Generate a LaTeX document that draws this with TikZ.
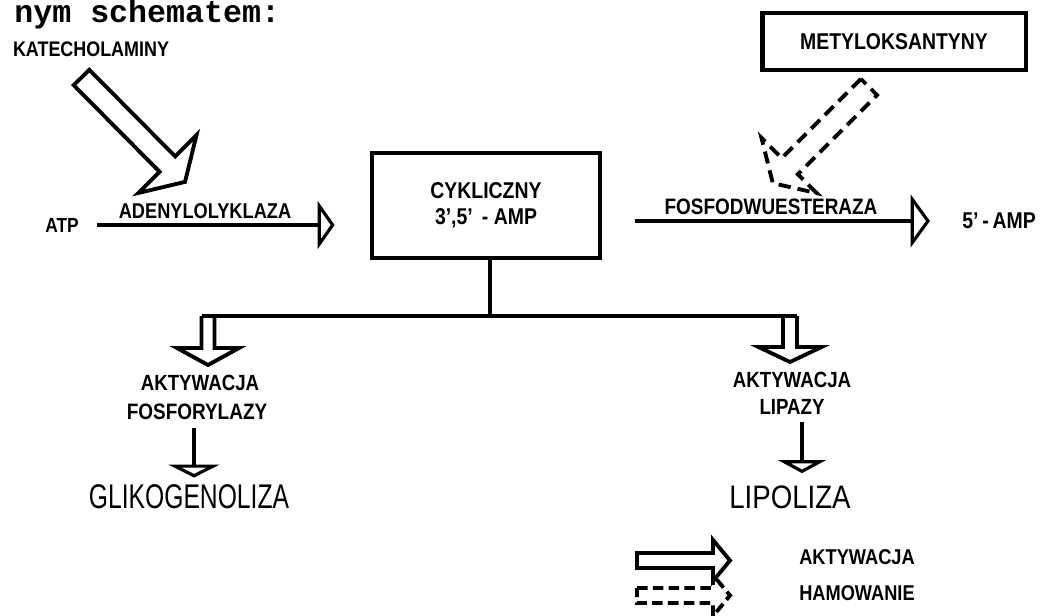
\documentclass[tikz,border=0pt]{standalone}
\usepackage{fontspec}
\usepackage{graphicx}
\setmainfont{Liberation Sans}
\newfontfamily\typew{Liberation Mono}
\newfontfamily\cond[FakeStretch=0.85]{Liberation Sans}
\usetikzlibrary{arrows.meta}
\newcommand{\fs}[1]{\fontsize{#1}{#1}\selectfont\cond\bfseries}
\begin{document}
\begin{tikzpicture}[x=0.02cm,y=-0.02cm,
  lbl/.style={inner sep=0pt, font=\fs{12.5}},
  biglbl/.style={inner sep=0pt, font=\fontsize{19.5}{20}\selectfont},
  conn/.style={line width=1.8pt},
  hollow/.style={line width=2.2pt, line join=miter},
  dsh/.style={hollow, dash pattern=on 7pt off 4pt},
  box/.style={draw, line width=2.8pt, inner sep=0pt, align=center}
]
\useasboundingbox (0,0) rectangle (1040,615);

% heading
\node[inner sep=0pt, anchor=base west, font=\fontsize{18}{20}\selectfont\typew\bfseries] (head) at (14,23) {nym schematem:};
\node[lbl, font=\fs{12}] (kat) at (91,49) {KATECHOLAMINY};

% boxes
\node[box, minimum width=5.28cm, minimum height=1.14cm, font=\fs{13}] (met) at (894,41.5) {METYLOKSANTYNY};
\node[box, minimum width=4.56cm, minimum height=2.1cm, font=\fontsize{13}{14}\selectfont\cond\bfseries] (camp) at (486,205.5) {CYKLICZNY\\[1pt]3’,5’ \,- AMP};

% ATP line
\node[lbl, font=\fs{11.6}] (atp) at (62,225) {ATP};
\node[lbl, font=\fs{12.2}] (aden) at (205,211) {ADENYLOLYKLAZA};
\draw[conn, -{Triangle[open,length=9.6pt,width=27pt]}] ([xshift=0.36cm]atp.east) -- ([xshift=-0.7cm]camp.west |- atp.east);

% 5'-AMP line
\node[lbl, font=\fs{13}] (amp) at (999,221) {5’\,-\,AMP};
\node[lbl, font=\fs{12.7}] (fosfo) at (771,207) {FOSFODWUESTERAZA};
\draw[conn, -{Triangle[open,length=11pt,width=30pt]}] ([xshift=0.66cm]camp.east |- amp.west) -- ([xshift=-0.64cm]amp.west);

% katecholaminy hollow arrow
\draw[hollow] (89.3,69.8) -- (175.2,156.4) -- (196.5,135.2) -- (185,181.9) -- (138.3,193) -- (159.6,171.8) -- (73.7,85.2) -- cycle;

% metyloksantyny dashed arrow
\draw[dsh] (860.9,78.9) -- (781.7,158.1) -- (761.5,137.9) -- (772.8,183.2) -- (816.7,193.1) -- (797.9,174.3) -- (877.1,95.1) -- cycle;

% branches
\coordinate (bl) at (201.5,316);
\coordinate (br) at (797,316);
\draw[conn] ([xshift=0.08cm]camp.south) -- ([xshift=0.08cm]camp.south |- bl);
\draw[conn] (bl) -- (br);
\draw[hollow] (bl) -- (201.5,348) -- (177,348) -- (208,365) -- (239,348) -- (214.5,348) -- (214.5,316);
\draw[hollow] (br) -- (797,347) -- (821.5,347) -- (790,362) -- (758.5,347) -- (783,347) -- (783,316);

% left column
\node[lbl] (akt1) at (200,383) {AKTYWACJA};
\node[lbl, font=\fs{12.7}] (fosf) at (197,412) {FOSFORYLAZY};
\node[biglbl] (glik) at (189,497) {\scalebox{0.72}[1]{GLIKOGENOLIZA}};
\draw[conn, -{Triangle[open,length=7.4pt,width=29pt]}] ([xshift=-0.06cm,yshift=-0.16cm]fosf.south) -- ([xshift=-0.06cm,yshift=0.14cm]fosf.south |- glik.north);

% right column
\node[lbl] (akt2) at (792,380) {AKTYWACJA};
\node[lbl] (lip) at (792,407) {LIPAZY};
\node[biglbl, font=\fontsize{18.5}{20}\selectfont] (lipol) at (790,497) {\scalebox{0.85}[1]{LIPOLIZA}};
\draw[conn, -{Triangle[open,length=7.4pt,width=27pt]}] ([xshift=0.2cm,yshift=-0.14cm]lip.south) -- ([xshift=0.2cm,yshift=0.24cm]lip.south |- lipol.north);

% legend
\draw[hollow] (637,553) -- (713,553) -- (713,540) -- (730,560.5) -- (713,581) -- (713,568) -- (637,568) -- cycle;
\draw[dsh, dash pattern=on 6pt off 3pt] (637,588) -- (713,588) -- (713,575) -- (730,595.5) -- (713,616) -- (713,603) -- (637,603) -- cycle;
\node[lbl, font=\fs{12.2}] (leg1) at (857,557) {AKTYWACJA};
\node[lbl, font=\fs{12.2}] (leg2) at (857,593) {HAMOWANIE};
\end{tikzpicture}
\end{document}
